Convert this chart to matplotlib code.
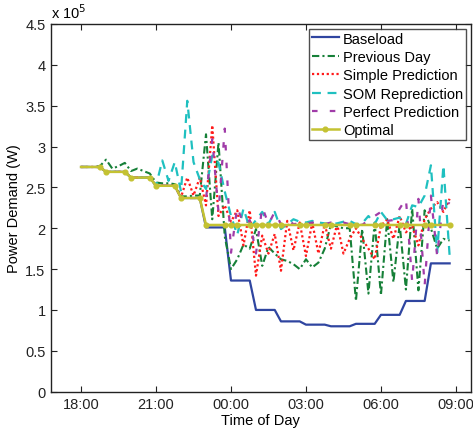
import matplotlib
matplotlib.use("Agg")
import matplotlib.pyplot as plt
import numpy as np

plt.rcParams['font.family'] = ['Liberation Sans', 'DejaVu Sans']

# time in hours after 18:00, 15-minute samples (18:00 .. 08:45)
t = np.arange(60) * 0.25

baseload = [2.75, 2.75, 2.75, 2.75, 2.69, 2.69, 2.69, 2.69, 2.62, 2.62, 2.62, 2.62,
            2.52, 2.52, 2.52, 2.52, 2.37, 2.37, 2.37, 2.37, 2.01, 2.01, 2.01, 2.01,
            1.36, 1.36, 1.36, 1.36, 1.00, 1.00, 1.00, 1.00, 0.86, 0.86, 0.86, 0.86,
            0.82, 0.82, 0.82, 0.82, 0.80, 0.80, 0.80, 0.80, 0.83, 0.83, 0.83, 0.83,
            0.94, 0.94, 0.94, 0.94, 1.11, 1.11, 1.11, 1.11, 1.57, 1.57, 1.57, 1.57]

previous_day = [2.75, 2.75, 2.75, 2.76, 2.84, 2.73, 2.76, 2.80, 2.70, 2.73, 2.70, 2.67,
                2.56, 2.55, 2.55, 2.54, 2.39, 2.39, 2.40, 2.40, 3.15, 2.11, 3.05, 1.90,
                1.50, 1.62, 1.80, 1.75, 1.99, 1.54, 1.77, 1.69, 1.62, 1.60, 1.56, 1.50,
                1.62, 1.52, 1.58, 1.75, 2.05, 2.02, 2.00, 2.00, 1.11, 1.99, 1.20, 2.07,
                1.18, 2.11, 1.34, 2.05, 1.25, 2.24, 1.24, 2.22, 2.00, 1.75, 1.87, 1.85]

simple_prediction = [2.75, 2.75, 2.75, 2.75, 2.69, 2.69, 2.69, 2.69, 2.62, 2.62, 2.62, 2.62,
                     2.52, 2.52, 2.52, 2.52, 2.38, 2.62, 2.40, 2.62, 2.28, 3.26, 2.15, 2.28,
                     2.08, 2.22, 1.79, 2.22, 1.42, 1.91, 1.69, 1.93, 1.48, 2.09, 1.73, 2.07,
                     1.66, 2.07, 1.69, 2.05, 1.75, 2.05, 1.69, 1.87, 2.00, 1.87, 1.75, 1.62,
                     2.03, 2.11, 1.87, 2.15, 1.95, 2.03, 1.79, 2.11, 2.24, 2.32, 2.20, 2.36]

som_reprediction = [2.75, 2.75, 2.75, 2.75, 2.69, 2.69, 2.69, 2.69, 2.62, 2.62, 2.62, 2.62,
                    2.52, 2.83, 2.58, 2.81, 2.45, 3.56, 2.81, 2.60, 2.48, 2.89, 2.80, 2.45,
                    2.15, 1.92, 2.24, 2.00, 2.10, 2.20, 2.05, 2.20, 1.99, 2.05, 2.11, 2.08,
                    2.07, 2.09, 2.07, 2.06, 2.05, 2.06, 2.08, 2.09, 2.05, 2.06, 2.15, 2.05,
                    2.20, 2.10, 2.11, 2.13, 2.05, 2.28, 2.26, 2.40, 2.77, 1.70, 2.77, 1.66]

perfect_prediction = [2.75, 2.75, 2.75, 2.75, 2.69, 2.69, 2.69, 2.69, 2.62, 2.62, 2.62, 2.62,
                      2.52, 2.52, 2.52, 2.52, 2.37, 2.37, 2.37, 2.37, 2.36, 3.09, 2.20, 3.22,
                      1.70, 2.26, 2.05, 2.10, 1.69, 2.26, 2.05, 2.20, 2.05, 2.11, 2.05, 2.06,
                      2.05, 2.07, 2.06, 2.05, 2.07, 2.05, 2.07, 2.05, 2.06, 2.04, 2.10, 2.15,
                      2.20, 2.09, 2.10, 2.24, 2.36, 1.35, 2.36, 1.30, 2.40, 1.66, 2.36, 2.30]

optimal_t = [0, 0.75, 1, 1.75, 2, 2.75, 3, 3.75, 4, 4.75, 5, 5.75, 6, 6.25, 6.75, 7,
             7.25, 7.5, 7.75, 8, 8.75, 9, 9.75, 10, 10.75, 11, 11.75, 12, 12.75, 13,
             13.75, 14, 14.75]
optimal = [2.75, 2.75, 2.69, 2.69, 2.62, 2.62, 2.52, 2.52, 2.37, 2.37, 2.04, 2.04,
           2.04, 2.04, 2.04, 2.04, 2.04, 2.04, 2.04, 2.04, 2.04, 2.04, 2.04, 2.04,
           2.04, 2.04, 2.04, 2.04, 2.04, 2.04, 2.04, 2.04, 2.04]

xtick_pos = [0, 3, 6, 9, 12, 15]
xtick_labels = ['18:00', '21:00', '00:00', '03:00', '06:00', '09:00']
ytick_pos = [0, 0.5, 1, 1.5, 2, 2.5, 3, 3.5, 4, 4.5]
ytick_labels = ['0', '0.5', '1', '1.5', '2', '2.5', '3', '3.5', '4', '4.5']

fig = plt.figure(figsize=(4.73, 4.31), dpi=100)
ax = fig.add_axes([0.108, 0.089, 0.887, 0.853])

ax.plot(t, baseload, color='#2f45a0', lw=1.6, ls='-', label='Baseload')
ax.plot(t, previous_day, color='#168038', lw=1.5, ls=(0, (3.5, 1.5, 1, 1.5)), label='Previous Day')
ax.plot(t, simple_prediction, color='#ff1a1a', lw=1.6, ls=(0, (1, 1.2)), label='Simple Prediction')
ax.plot(t, som_reprediction, color='#1fc0c0', lw=1.6, ls=(0, (4, 3)), label='SOM Reprediction')
ax.plot(t, perfect_prediction, color='#a03ca8', lw=1.6, ls=(0, (2.5, 5.5)), label='Perfect Prediction')
ax.plot(optimal_t, optimal, color='#c4c232', lw=1.8, ls='-', marker='o', markersize=3.4,
        markevery=list(range(1, len(optimal_t))), label='Optimal')

ax.set_xlim(-1.2, 15.59)
ax.set_ylim(0, 4.5)
ax.set_xticks(xtick_pos)
ax.set_xticklabels(xtick_labels)
ax.set_yticks(ytick_pos)
ax.set_yticklabels(ytick_labels)
ax.tick_params(direction='in', top=True, right=True, length=4, width=0.8,
               labelsize=10.5, colors='#222222', pad=4)
for s in ax.spines.values():
    s.set_linewidth(1.0)
    s.set_color('#222222')

ax.set_xlabel('Time of Day', fontsize=10.5, labelpad=1)
ax.set_ylabel('Power Demand (W)', fontsize=10.5, labelpad=3)
ax.text(0.0, 1.008, r'x 10$^{5}$', transform=ax.transAxes, ha='left', va='bottom', fontsize=10.5)

leg = ax.legend(loc='upper right', fontsize=10.5, frameon=True, fancybox=False,
                edgecolor='#222222', handlelength=1.9, handletextpad=0.25,
                labelspacing=0.3, borderpad=0.2, borderaxespad=0.32)
leg.get_frame().set_linewidth(1.0)

fig.savefig('out.png', dpi=100)
